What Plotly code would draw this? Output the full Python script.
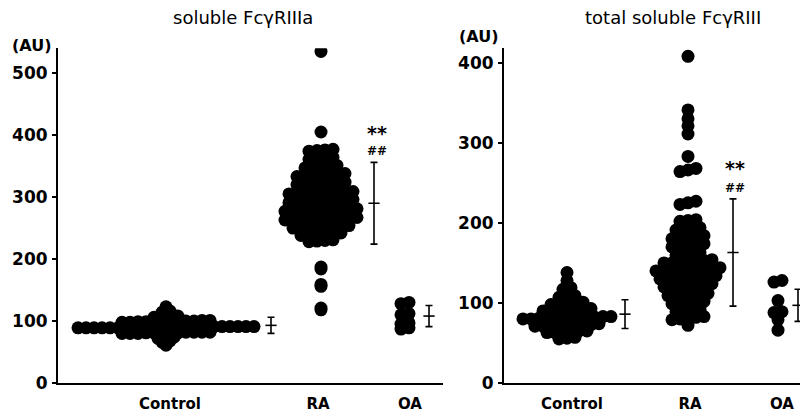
import numpy as np
import plotly.graph_objects as go

# ---------------- data ----------------
groups = ["Control", "RA", "OA"]

# soluble FcγRIIIa (AU)
ctrl_a = [123, 114, 116, 106, 107, 108, 108,
          98, 98, 99, 99, 99, 100, 100, 100, 101, 101, 99, 100,
          89, 89, 89, 89, 89, 89, 89, 90, 90, 90, 90, 90, 90, 90, 90, 90,
          91, 91, 91, 91, 91, 91, 91,
          80, 80, 81, 81, 81, 81, 82, 82, 82, 81, 80, 82,
          72, 73, 74, 66, 68, 61]
ra_a = [535, 405,
        374, 375, 376, 377,
        361, 362, 363, 364,
        347, 348, 349, 350, 351,
        333, 334, 335, 336, 336, 337, 338,
        320, 321, 322, 322, 323, 324, 324,
        305, 305, 306, 307, 307, 308, 308, 309, 309,
        291, 291, 292, 293, 293, 294, 294, 295, 296,
        277, 277, 278, 278, 279, 279, 280, 280, 281, 281,
        263, 263, 264, 264, 265, 265, 266, 266, 267, 267,
        250, 251, 251, 252, 252, 253, 253, 254,
        238, 239, 240, 240, 241, 242,
        228, 229, 230, 231,
        184, 187, 156, 159, 118, 121]
oa_a = [128, 130, 110, 112, 95, 97, 87, 89]

# total soluble FcγRIII (AU)
ctrl_t = [138, 128, 117, 119, 107, 108, 109,
          98, 99, 99, 100, 101,
          90, 90, 91, 91, 92, 92, 93,
          80, 80, 81, 81, 81, 81, 82, 82, 82, 82, 83, 83,
          71, 71, 72, 72, 72, 73, 73, 73, 74,
          63, 63, 64, 64, 65, 65,
          55, 56, 57]
ra_t = [408, 341, 330, 321, 311, 283,
        264, 266, 268,
        223, 225, 227,
        202, 203, 204,
        191, 192, 193, 194,
        180, 181, 182, 183, 184,
        170, 171, 172, 173, 174,
        160, 161, 162, 163,
        150, 150, 151, 152, 152, 153, 154,
        140, 140, 141, 141, 142, 143, 143, 144, 144,
        130, 130, 131, 132, 132, 133, 134, 134,
        120, 120, 121, 122, 123, 123, 124,
        109, 110, 110, 111, 112, 112,
        99, 100, 100, 101, 102,
        89, 90, 91, 92,
        79, 80, 81, 82, 83,
        72]
oa_t = [126, 128, 103, 88, 89, 79, 66]

# mean and SD bars as drawn
mean_a = [93, 290, 108]
sd_a = [13, 66, 17]
mean_t = [86, 163, 97]
sd_t = [18, 67, 20]

yticks_a = [0, 100, 200, 300, 400, 500]
yticks_t = [0, 100, 200, 300, 400]

# ---------------- layout constants (pixels) ----------------
W, H = 800, 412
FONT = "DejaVu Sans"
DX = 8          # horizontal spacing of dots in one row (px)
DOT = 13        # dot diameter (px)

panels = [
    dict(x0=58, x1=443, ymax=540, centers=[166, 321, 405], labels=[170, 318, 410],
         errx=[271, 374, 429], data=[ctrl_a, ra_a, oa_a], mean=mean_a, sd=sd_a,
         yt=yticks_a),
    dict(x0=504, x1=800, ymax=418, centers=[567, 688, 778], labels=[572, 690, 782],
         errx=[625, 733, 798], data=[ctrl_t, ra_t, oa_t], mean=mean_t, sd=sd_t,
         yt=yticks_t),
]
YDOM = [(H - 383) / H, (H - 48.3) / H]


def row_offsets(values, dx=DX, tol=3):
    """Group nearly-equal values into rows and spread each row sideways."""
    v = np.asarray(values, float)
    order = np.argsort(v, kind="stable")
    off = np.zeros(len(v))
    rows, cur = [], [order[0]]
    for a, b in zip(order[:-1], order[1:]):
        if v[b] - v[a] < tol:
            cur.append(b)
        else:
            rows.append(cur)
            cur = [b]
    rows.append(cur)
    for r in rows:
        n = len(r)
        for k, idx in enumerate(r):
            off[idx] = (k - (n - 1) / 2) * dx
    return off


fig = go.Figure()

for i, p in enumerate(panels):
    xa = "x" if i == 0 else "x2"
    ya = "y" if i == 0 else "y2"
    for g, vals, cx in zip(groups, p["data"], p["centers"]):
        off = row_offsets(vals)
        fig.add_trace(go.Scatter(
            x=(cx - p["x0"]) + off, y=vals, mode="markers", name=g,
            marker=dict(size=DOT, color="black", line=dict(width=0)),
            xaxis=xa, yaxis=ya, showlegend=False, hoverinfo="y"))
    fig.add_trace(go.Scatter(
        x=[e - p["x0"] for e in p["errx"]], y=p["mean"], mode="markers",
        marker=dict(symbol="line-ew", size=8, color="black",
                    line=dict(width=1.6, color="black")),
        error_y=dict(type="data", array=p["sd"], visible=True, width=3.5,
                     thickness=1.6, color="black"),
        xaxis=xa, yaxis=ya, showlegend=False, hoverinfo="skip"))

    xkey = "xaxis" if i == 0 else "xaxis2"
    ykey = "yaxis" if i == 0 else "yaxis2"
    fig.layout[xkey] = dict(
        domain=[p["x0"] / W, p["x1"] / W], range=[0, p["x1"] - p["x0"]],
        anchor=ya, showline=True, linewidth=2, linecolor="black",
        showgrid=False, zeroline=False, ticks="", automargin=False,
        tickvals=[l - p["x0"] for l in p["labels"]], ticktext=groups,
        tickfont=dict(family=FONT, size=15, color="black", weight="bold"),
        ticklabelstandoff=6, fixedrange=True)
    fig.layout[ykey] = dict(
        domain=YDOM, range=[0, p["ymax"]], anchor=xa, automargin=False,
        showline=True, linewidth=2, linecolor="black",
        showgrid=False, zeroline=False, ticks="outside", ticklen=4,
        tickwidth=1.5, tickcolor="black", tickvals=p["yt"],
        tickfont=dict(family=FONT, size=17, color="black", weight="bold"),
        ticklabelstandoff=1, fixedrange=True)


def ann(text, px, py, size, weight="normal"):
    fig.add_annotation(text=text, x=px / W, y=1 - py / H, xref="paper", yref="paper",
                       showarrow=False, xanchor="center", yanchor="middle",
                       font=dict(family=FONT, size=size, color="black", weight=weight))


ann("soluble FcγRIIIa", 243, 18, 18)
ann("total soluble FcγRIII", 673, 18, 18)
ann("(AU)", 32, 46, 16, "bold")
ann("(AU)", 479, 37, 16, "bold")
ann("**", 377, 133, 19, "bold")
ann("##", 377, 151, 12, "bold")
ann("**", 735, 168, 19, "bold")
ann("##", 735, 188, 12, "bold")

fig.update_layout(width=W, height=H, margin=dict(l=0, r=0, t=0, b=0),
                  paper_bgcolor="white", plot_bgcolor="white", showlegend=False)

fig.write_html("out.html", config={"displayModeBar": False},
               post_script="document.body.style.margin='0';"
                           "document.body.style.overflow='hidden';")
